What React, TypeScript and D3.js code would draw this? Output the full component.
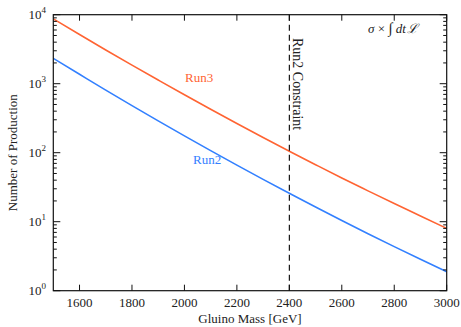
import React from "react";
import * as d3 from "d3";

const masses = [1500, 1600, 1700, 1800, 1900, 2000, 2100, 2200, 2300, 2400, 2500, 2600, 2700, 2800, 2900, 3000];
const run3 = [8710, 5160, 3080, 1860, 1130, 690, 426, 265, 166, 105, 67, 43, 28, 18.3, 12.1, 8.0];
const run2 = [2330, 1370, 807, 481, 289, 175, 107, 66, 41, 25.8, 16.3, 10.4, 6.7, 4.35, 2.85, 1.88];
const xTicks = [1600, 1800, 2000, 2200, 2400, 2600, 2800, 3000];
const yDecades = [0, 1, 2, 3, 4];
const constraintMass = 2400;

const W = 461, H = 327;
const M = { left: 53.3, right: 446.7, top: 14.7, bottom: 290.7 };
const FONT = "'Liberation Serif', 'Times New Roman', serif";
const ORANGE = "#ff6433";
const BLUE = "#3380ff";

export default function App() {
  const x = d3.scaleLinear().domain([1500, 3000]).range([M.left, M.right]);
  const y = d3.scaleLog().domain([1, 10000]).range([M.bottom, M.top]);
  const line = d3
    .line<number>()
    .x((_, i) => x(masses[i]))
    .y((d) => y(d))
    .curve(d3.curveMonotoneX);

  const minor: number[] = [];
  for (let e = 0; e < 4; e++) for (let k = 2; k <= 9; k++) minor.push(k * Math.pow(10, e));

  const ax = "#111";
  return (
    <svg width={W} height={H} style={{ position: "absolute", left: 0, top: 0, background: "#fff" }} fontFamily={FONT}>
      <rect x={0} y={0} width={W} height={H} fill="#fff" />
      <defs>
        <clipPath id="clip">
          <rect x={M.left} y={M.top} width={M.right - M.left} height={M.bottom - M.top} />
        </clipPath>
      </defs>
      {/* curves */}
      <g clipPath="url(#clip)">
        <path d={line(run3) || ""} fill="none" stroke={ORANGE} strokeWidth={1.6} />
        <path d={line(run2) || ""} fill="none" stroke={BLUE} strokeWidth={1.6} />
      </g>
      {/* constraint line */}
      <line x1={x(constraintMass)} x2={x(constraintMass)} y1={M.top} y2={M.bottom} stroke="#000" strokeWidth={1.1} strokeDasharray="6,4" />
      {/* frame */}
      <rect x={M.left} y={M.top} width={M.right - M.left} height={M.bottom - M.top} fill="none" stroke={ax} strokeWidth={1.2} />
      {/* x ticks */}
      {xTicks.map((t) => (
        <g key={"x" + t}>
          <line x1={x(t)} x2={x(t)} y1={M.bottom} y2={M.bottom - 6} stroke={ax} strokeWidth={1} />
          <line x1={x(t)} x2={x(t)} y1={M.top} y2={M.top + 6} stroke={ax} strokeWidth={1} />
          <text x={x(t)} y={307} textAnchor="middle" fontSize={13} fill="#222">{t}</text>
        </g>
      ))}
      {/* y ticks */}
      {yDecades.map((e) => {
        const v = Math.pow(10, e);
        return (
          <g key={"y" + e}>
            <line x1={M.left} x2={M.left + 7} y1={y(v)} y2={y(v)} stroke={ax} strokeWidth={1} />
            <line x1={M.right} x2={M.right - 7} y1={y(v)} y2={y(v)} stroke={ax} strokeWidth={1} />
            <text x={46} y={y(v) + 4} textAnchor="end" fontSize={13} fill="#222">
              10<tspan dy={-6} fontSize={9}>{e}</tspan>
            </text>
          </g>
        );
      })}
      {minor.map((v) => (
        <g key={"m" + v}>
          <line x1={M.left} x2={M.left + 3.5} y1={y(v)} y2={y(v)} stroke={ax} strokeWidth={1} />
          <line x1={M.right} x2={M.right - 3.5} y1={y(v)} y2={y(v)} stroke={ax} strokeWidth={1} />
        </g>
      ))}
      {/* axis labels */}
      <text x={(M.left + M.right) / 2} y={323} textAnchor="middle" fontSize={13} fill="#222">Gluino Mass [GeV]</text>
      <text transform={`translate(17,${(M.top + M.bottom) / 2}) rotate(-90)`} textAnchor="middle" fontSize={13} fill="#222">Number of Production</text>
      {/* annotations */}
      <text x={185} y={82} fontSize={13} fill={ORANGE}>Run3</text>
      <text x={193} y={164} fontSize={13} fill={BLUE}>Run2</text>
      <text transform={`translate(${x(constraintMass) + 3.5},38) rotate(90)`} fontSize={14} fill="#222">Run2 Constraint</text>
      <text x={368} y={33} fontSize={13} fill="#222" fontStyle="italic">
        σ <tspan fontStyle="normal">×</tspan> <tspan fontStyle="normal" fontSize={15}>∫</tspan> dt<tspan dx={1}>ℒ</tspan>
      </text>
    </svg>
  );
}
